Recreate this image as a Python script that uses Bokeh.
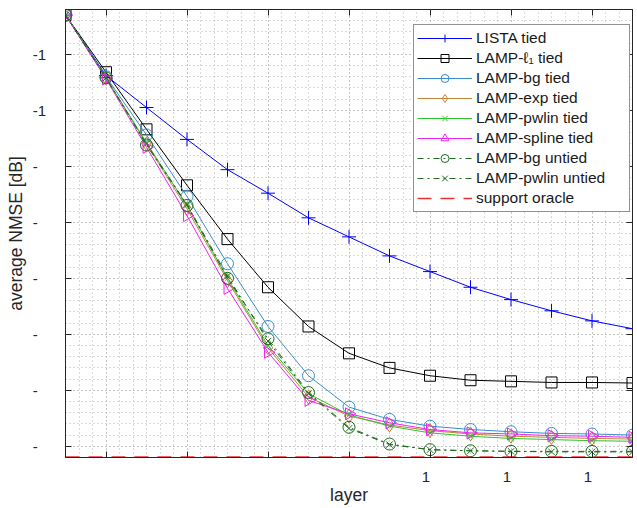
import math
from bokeh.plotting import figure
from bokeh.models import Range1d, FixedTicker, LinearAxis, Legend, LegendItem
from bokeh.embed import file_html
from bokeh.resources import INLINE

# ---------------- data ----------------
layers = [1, 2, 3, 4, 5, 6, 7, 8, 9, 10, 11, 12, 13, 14, 15]

lista_tied = [-6.5, -11.9, -14.75, -17.6, -20.3, -22.4, -24.6, -26.3, -28.0, -29.4, -30.8, -31.9, -32.9, -33.8, -34.5]
lamp_l1_tied = [-6.5, -11.6, -16.7, -21.7, -26.5, -30.8, -34.3, -36.7, -38.0, -38.7, -39.1, -39.2, -39.3, -39.3, -39.35]
lamp_bg_tied = [-6.5, -12.0, -17.2, -22.7, -28.7, -34.3, -38.7, -41.5, -42.6, -43.2, -43.5, -43.7, -43.85, -43.9, -44.0]
lamp_exp_tied = [-6.5, -12.1, -18.0, -23.8, -30.2, -36.2, -40.6, -42.3, -43.1, -43.6, -43.9, -44.1, -44.2, -44.3, -44.35]
lamp_pwlin_tied = [-6.5, -12.1, -17.9, -23.5, -30.0, -36.0, -40.3, -42.2, -43.2, -43.8, -44.1, -44.3, -44.4, -44.5, -44.55]
lamp_spline_tied = [-6.5, -12.2, -18.3, -24.4, -30.9, -36.6, -40.9, -42.1, -42.9, -43.5, -43.8, -43.9, -44.05, -44.1, -44.2]
lamp_bg_untied = [-6.5, -12.1, -18.1, -23.5, -30.0, -35.4, -40.2, -43.3, -44.8, -45.3, -45.4, -45.45, -45.45, -45.45, -45.45]
lamp_pwlin_untied = [-6.5, -12.1, -18.0, -23.4, -29.8, -35.6, -40.3, -43.4, -44.85, -45.3, -45.4, -45.45, -45.5, -45.5, -45.5]
support_oracle = [-45.95, -45.95, -45.95, -45.95, -45.95, -45.95, -45.95, -45.95, -45.95, -45.95, -45.95, -45.95, -45.95, -45.95, -45.95]

x_ticks = [2, 4, 6, 8, 10, 12, 14]
x_tick_labels = ["", "", "", "", "1\u2007", "1\u2007", "1\u2007"]
y_ticks = [-45, -40, -35, -30, -25, -20, -15, -10]
y_tick_labels = ["-\u2007\u2007", "-\u2007\u2007", "-\u2007\u2007", "-\u2007\u2007", "-\u2007\u2007", "-\u2007\u2007", "-1\u2007", "-1\u2007"]
x_minor = [1 + k / 3 for k in range(0, 43)]
y_minor = list(range(-46, -5))

FONT = "Liberation Sans"
TXT = "#262626"

p = figure(width=637, height=508, output_backend="svg", toolbar_location=None,
           x_range=Range1d(1, 15), y_range=Range1d(-46, -6),
           min_border_left=65, min_border_right=5, min_border_top=9, min_border_bottom=51)
p.outline_line_color = TXT
p.outline_line_width = 1

xt = FixedTicker(ticks=x_ticks, minor_ticks=x_minor)
yt = FixedTicker(ticks=y_ticks, minor_ticks=y_minor)

def style_axis(ax, labels_on):
    ax.major_tick_in = 6
    ax.major_tick_out = 0
    ax.minor_tick_in = 0
    ax.minor_tick_out = 0
    ax.axis_line_color = TXT
    ax.major_tick_line_color = TXT
    ax.major_label_text_font = FONT
    ax.major_label_text_color = TXT
    if labels_on:
        ax.major_label_text_font_size = "15px"
    else:
        ax.major_label_text_font_size = "0px"
        ax.major_label_standoff = 0

xa = p.xaxis[0]
xa.ticker = xt
style_axis(xa, True)
xa.major_label_overrides = {t: l for t, l in zip(x_ticks, x_tick_labels)}
xa.major_label_standoff = 10
xa.axis_label = "layer"
xa.axis_label_text_font = FONT
xa.axis_label_text_font_size = "17.5px"
xa.axis_label_text_font_style = "normal"
xa.axis_label_text_color = TXT
xa.axis_label_standoff = -3

ya = p.yaxis[0]
ya.ticker = yt
style_axis(ya, True)
ya.major_label_overrides = {t: l for t, l in zip(y_ticks, y_tick_labels)}
ya.major_label_standoff = 11
ya.axis_label = "average NMSE [dB]"
ya.axis_label_text_font = FONT
ya.axis_label_text_font_size = "17.5px"
ya.axis_label_text_font_style = "normal"
ya.axis_label_text_color = TXT
ya.axis_label_standoff = 4

top = LinearAxis(ticker=xt)
style_axis(top, False)
top.major_label_overrides = {t: "" for t in x_ticks}
p.add_layout(top, "above")
right = LinearAxis(ticker=yt)
style_axis(right, False)
right.major_label_overrides = {t: "" for t in y_ticks}
p.add_layout(right, "right")

for g in (p.xgrid[0], p.ygrid[0]):
    g.grid_line_color = "#b4b4b4"
    g.grid_line_dash = "1 3"
    g.minor_grid_line_color = "#b4b4b4"
    g.minor_grid_line_dash = "1 3"
p.xgrid[0].ticker = xt
p.ygrid[0].ticker = yt

series = [
    ("LISTA tied", lista_tied, "#0000ff", "solid", "cross", 14, 0),
    ("LAMP-\u2113\u2081 tied", lamp_l1_tied, "#000000", "solid", "square", 11, 0),
    ("LAMP-bg tied", lamp_bg_tied, "#3a8dcc", "solid", "circle", 12, 0),
    ("LAMP-exp tied", lamp_exp_tied, "#c0853a", "solid", "diamond", 14, 0),
    ("LAMP-pwlin tied", lamp_pwlin_tied, "#2ec42e", "solid", "x", 8, 0),
    ("LAMP-spline tied", lamp_spline_tied, "#ee22ee", "solid", "triangle", 12, -math.pi / 2),
    ("LAMP-bg untied", lamp_bg_untied, "#1f6b1f", "dashdot", "circle", 12, 0),
    ("LAMP-pwlin untied", lamp_pwlin_untied, "#1f6b1f", "dashdot", "x", 9, 0),
]

items = []
for name, ys, col, dash, mk, sz, ang in series:
    ln = p.line(layers, ys, line_color=col, line_width=1, line_dash=dash)
    sc = p.scatter(layers, ys, marker=mk, size=sz, angle=ang, line_color=col,
                   fill_color=None, line_width=1)
    items.append(LegendItem(label=name, renderers=[ln, sc]))

lo = p.line(layers, support_oracle, line_color="#e83030", line_width=1.5, line_dash="14 9")
items.append(LegendItem(label="support oracle", renderers=[lo]))

legend = Legend(items=items, location=(348, 245))
legend.label_text_font = FONT
legend.label_text_font_size = "15.5px"
legend.label_text_color = "#1a1a1a"
legend.glyph_width = 55
legend.glyph_height = 20
legend.label_height = 20
legend.label_width = 150
legend.label_standoff = 4
legend.padding = 3
legend.spacing = 0
legend.margin = 0
legend.border_line_color = TXT
legend.border_line_width = 1
legend.background_fill_color = "white"
legend.background_fill_alpha = 1
p.add_layout(legend)

open("out.html", "w").write(file_html(p, INLINE))
